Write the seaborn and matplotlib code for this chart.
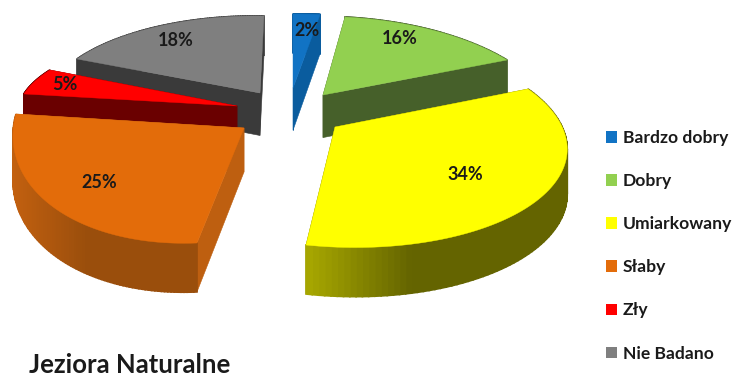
import numpy as np
import matplotlib
matplotlib.use("Agg")
import matplotlib.pyplot as plt
from matplotlib.colors import to_rgb
from matplotlib.patches import Patch
import seaborn as sns

categories = ["Bardzo dobry", "Dobry", "Umiarkowany", "Słaby", "Zły", "Nie Badano"]
shares = [2, 16, 34, 25, 5, 18]
title = "Jeziora Naturalne"

top_colors = ["#1173C4", "#92D050", "#FFFF00", "#E36C0A", "#FF0000", "#7F7F7F"]
wall_colors = ["#0A5C9E", "#46602A", "#6E6E00", "#BE5F10", "#6A0000", "#3A3A3A"]
arc_left = ["#0A5C9E", "#46602A", "#A8A800", "#C2600F", "#6A0000", "#3A3A3A"]
arc_right = ["#0A5C9E", "#46602A", "#646400", "#9A4E0C", "#6A0000", "#3A3A3A"]

sns.set_theme(style="white")
plt.rcParams["font.family"] = ["Lato", "DejaVu Sans"]

# Perspective projection of each exploded slice from the unit disc to the canvas.
projections = [
    [[216, 0, 293], [0, -74, 88], [0, 0, 1]],
    [[206.40781, 76.91265, 323], [1.1536, -74.78358, 95], [-0.03489, 0.23865, 1]],
    [[214.69516, 46.28911, 335], [1.30993, -83.72973, 127], [-0.02557, 0.14761, 1]],
    [[233.0555, 3.68137, 244], [16.77496, -135.61112, 128], [0.16192, -0.09279, 1]],
    [[217.7, 23.4, 237], [2.0, -80.3, 106], [0, 0, 1]],
    [[215.58224, 19.91107, 260], [4.83407, -76.03569, 93], [0.07984, 0.06027, 1]],
]
label_pos = [(307, 30), (400, 38), (465, 175), (99, 182), (65, 84), (176, 41)]
# Back slices are painted first so that nearer ones overlap them.
paint_order = [0, 1, 2, 5, 4, 3]

edges = np.concatenate([[0], np.cumsum(shares)]) * 3.6


def project(M, u, v):
    p = np.array(M) @ np.array([u, v, np.ones_like(u)])
    return p[0] / p[2], p[1] / p[2]


def depth(y):
    # Extrusion height grows slightly towards the viewer.
    return 44 + 0.043 * (np.asarray(y) - 128)


fig = plt.figure(figsize=(7.34, 3.77), dpi=100)
ax = fig.add_axes([0, 0, 1, 1])
ax.set_xlim(0, 734)
ax.set_ylim(377, 0)
ax.axis("off")

for rank, i in enumerate(paint_order):
    base = 10 + rank * 5
    th = np.radians(np.linspace(edges[i], edges[i + 1], 90))
    x, y = project(projections[i], np.sin(th), np.cos(th))
    tx, ty = project(projections[i], np.zeros(1), np.zeros(1))
    dy, tdy = depth(y), depth(ty)

    # Radial side faces.
    for ex, ey, ed in [(x[0], y[0], dy[0]), (x[-1], y[-1], dy[-1])]:
        ax.fill([tx[0], ex, ex, tx[0]], [ty[0], ey, ey + ed, ty[0] + tdy[0]],
                color=wall_colors[i], lw=0.4, zorder=base)

    # Outer curved face, shaded from left to right.
    lo, hi = np.array(to_rgb(arc_left[i])), np.array(to_rgb(arc_right[i]))
    for k in range(len(x) - 1):
        f = np.clip((0.5 * (x[k] + x[k + 1]) - x.min()) / (0.4 * (x.max() - x.min()) + 1e-6), 0, 1)
        ax.fill([x[k], x[k + 1], x[k + 1], x[k]],
                [y[k], y[k + 1], y[k + 1] + dy[k + 1], y[k] + dy[k]],
                color=lo + (hi - lo) * f, lw=1.2, zorder=base + 1)

    # Top face.
    ax.fill(np.r_[tx, x], np.r_[ty, y], color=top_colors[i], lw=0.3, zorder=base + 2)
    ax.text(*label_pos[i], f"{shares[i]}%", ha="center", va="center", fontsize=13,
            fontweight="bold", color="#1a1a1a", zorder=60)

handles = [Patch(facecolor=c, edgecolor="none") for c in top_colors]
ax.legend(handles, categories, loc="upper left", bbox_to_anchor=(606 / 734, 1 - 130 / 377),
          frameon=False, handlelength=0.65, handleheight=0.65,
          handletextpad=0.3, labelspacing=1.55, borderpad=0, borderaxespad=0,
          labelcolor="#1a1a1a", prop={"weight": "bold", "size": 12.6})
ax.text(29, 373, title, fontsize=18.5, fontweight="bold", color="#1a1a1a", ha="left", va="baseline")

fig.savefig("out.png", dpi=100)
